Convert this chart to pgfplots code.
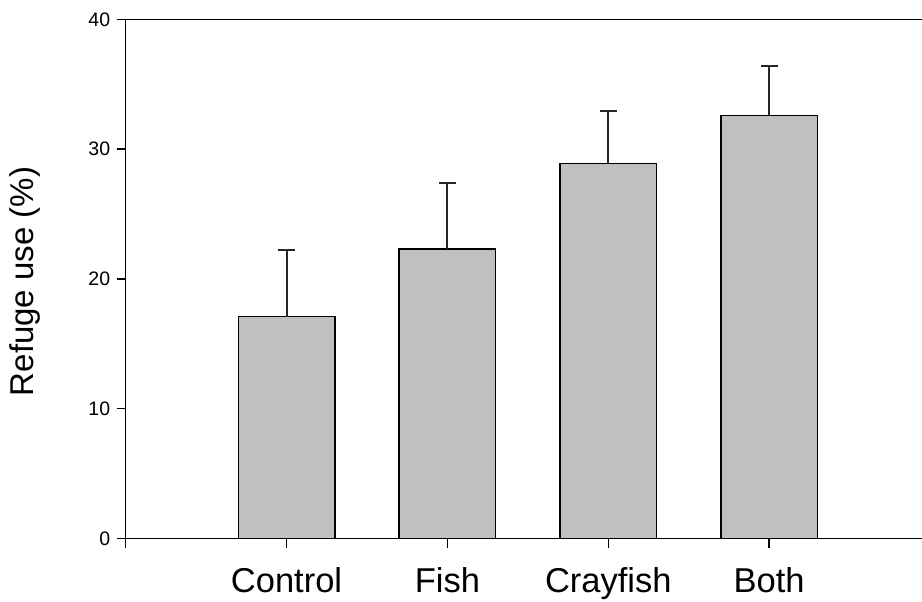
\documentclass[border=0pt]{standalone}
\usepackage{fontspec}
\setmainfont{Liberation Sans}
\usepackage{pgfplots}
\pgfplotsset{compat=1.18}
\definecolor{barfill}{RGB}{192,192,192}
\begin{document}
\begin{tikzpicture}
\begin{axis}[
  scale only axis,
  width=796.3bp, height=519.2bp,
  xmin=-1, xmax=3.95,
  ymin=0, ymax=40,
  axis x line*=box,
  axis y line*=left,
  axis line style={line width=1.5bp, black},
  xtick={-1,0,1,2,3},
  xticklabels={{},Control,Fish,Crayfish,Both},
  ytick={0,10,20,30,40},
  xtick pos=bottom, ytick pos=left,
  tick align=outside,
  major tick length=9bp,
  tick style={line width=1.5bp, black},
  /pgf/number format/assume math mode=true,
  yticklabel style={font=\fontsize{19.5bp}{22bp}\selectfont, xshift=-3bp},
  xticklabel style={font=\fontsize{34.5bp}{40bp}\selectfont, anchor=base, yshift=-45bp},
  every axis y label/.style={at={(axis description cs:-0.1158,0.495)}, rotate=90, anchor=base},
  ylabel={\fontsize{33bp}{38bp}\selectfont Refuge use (\%)},
  ybar, bar width=0.6,
]
\addplot[fill=barfill, draw=black, line width=1.5bp,
  error bars/.cd, y dir=plus, y explicit,
  error bar style={line width=2bp, black!85},
  error mark options={rotate=90, mark size=8.5bp, line width=2bp, black!85}]
  coordinates {
    (0,17.1) +- (0,5.1)
    (1,22.3) +- (0,5.1)
    (2,28.9) +- (0,4.0)
    (3,32.6) +- (0,3.8)
  };
\end{axis}
\pgfresetboundingbox
\path[use as bounding box] ([shift={(-125.7bp,-63.5bp)}]current axis.south west) rectangle ([shift={(0bp,19.3bp)}]current axis.north east);
\end{tikzpicture}
\end{document}
